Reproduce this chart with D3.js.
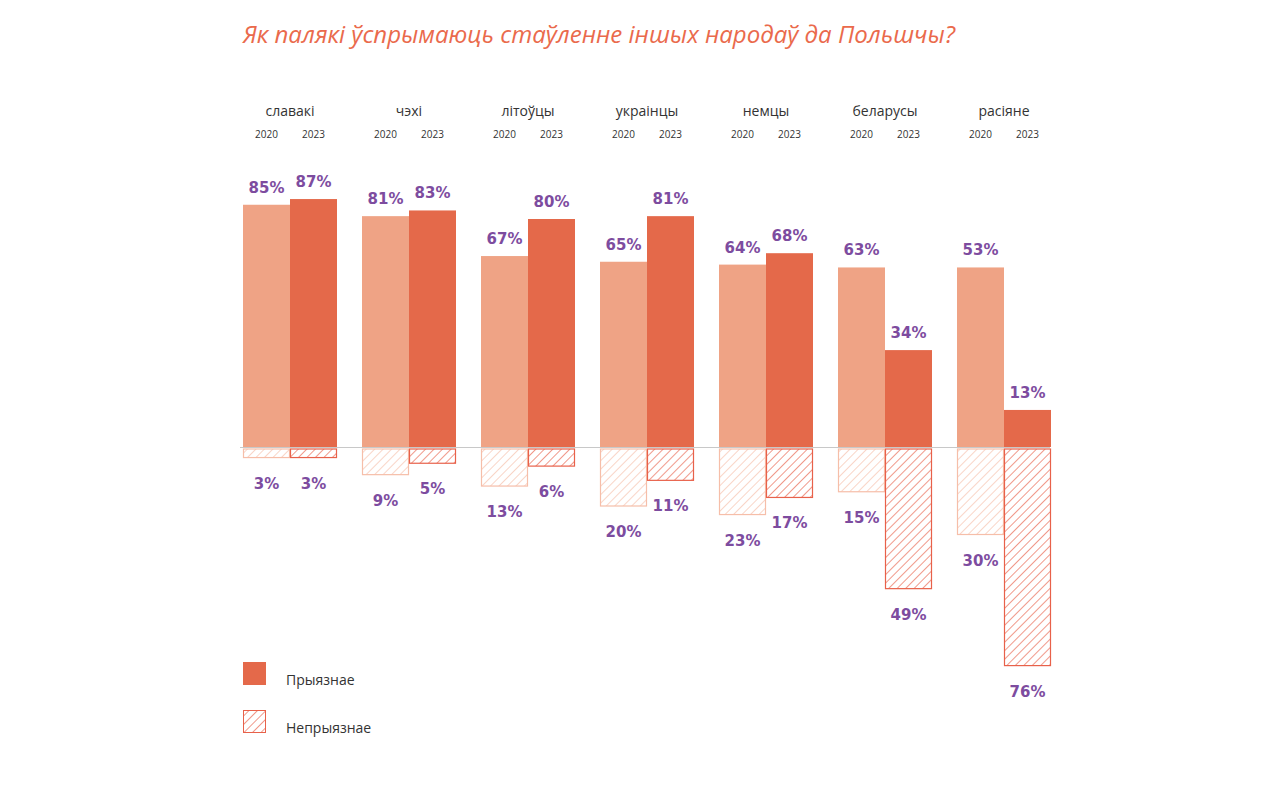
<!DOCTYPE html>
<html><head><meta charset="utf-8">
<script src="https://cdn.jsdelivr.net/npm/d3@7"></script>
<style>body{margin:0;background:#fff;}</style>
</head><body>
<svg id="c" width="1280" height="800"></svg>
<script>
const categories = ["славакі","чэхі","літоўцы","украінцы","немцы","беларусы","расіяне"];
const years = ["2020","2023"];
// printed value labels
const positive2020 = [85,81,67,65,64,63,53];
const positive2023 = [87,83,80,81,68,34,13];
const negative2020 = [3,9,13,20,23,15,30];
const negative2023 = [3,5,6,11,17,49,76];
// bar heights as drawn in the source picture (the "расіяне 2020" bar is drawn at the 63% height)
const positive2020Drawn = [85,81,67,65,64,63,63];
const legendLabels = ["Прыязнае","Непрыязнае"];
const title = "Як палякі ўспрымаюць стаўленне іншых народаў да Польшчы?";

const svg = d3.select("#c");
const defs = svg.append("defs");
function hatch(id, color){
  const p = defs.append("pattern").attr("id",id).attr("patternUnits","userSpaceOnUse")
    .attr("width",6).attr("height",6).attr("patternTransform","rotate(45)");
  p.append("line").attr("x1",0).attr("y1",0).attr("x2",0).attr("y2",6)
    .attr("stroke",color).attr("stroke-width",1.3);
}
const light="#efa385", dark="#e4694a", lightHatch="#f6bea9", darkHatch="#e8614a";
hatch("h0", lightHatch); hatch("h1", darkHatch);

const x0 = d3.scaleBand().domain(categories).range([243, 243+119*7]).paddingInner(0).paddingOuter(0);
const x1 = d3.scaleBand().domain(years).range([0, 94]);
const base = 447;
const yPos = d3.scaleLinear().domain([0,100]).range([base, base-285]);
const yNeg = d3.scaleLinear().domain([0,100]).range([base+2, base+2+285]);

const purple="#7d4c9f";
const labelFont = "'DejaVu Sans', sans-serif";

svg.append("text").attr("x",243).attr("y",43).text(title)
  .attr("font-family","'Open Sans', sans-serif").attr("font-style","italic")
  .attr("font-size",24).attr("fill","#ea6a4c")
  .attr("textLength",712).attr("lengthAdjust","spacingAndGlyphs");

const g = svg.append("g");
categories.forEach((c,i)=>{
  const gx = x0(c);
  g.append("text").attr("x",gx+47).attr("y",116).attr("text-anchor","middle")
    .attr("font-family","'Open Sans', sans-serif").attr("font-size",14).attr("fill","#333").text(c);
  years.forEach((yr,j)=>{
    g.append("text").attr("x",gx+x1(yr)+x1.bandwidth()/2).attr("y",138).attr("text-anchor","middle")
      .attr("font-family","'Open Sans', sans-serif").attr("font-size",10).attr("fill","#333").text(yr);
    const pv = j===0?positive2020[i]:positive2023[i];
    const ph = j===0?positive2020Drawn[i]:positive2023[i];
    const nv = j===0?negative2020[i]:negative2023[i];
    const bx = gx+x1(yr), bw = x1.bandwidth();
    g.append("rect").attr("x",bx).attr("y",yPos(ph)).attr("width",bw).attr("height",base-yPos(ph))
      .attr("fill", j===0?light:dark);
    g.append("rect").attr("x",bx+0.5).attr("y",yNeg(0)).attr("width",bw-1).attr("height",yNeg(nv)-yNeg(0))
      .attr("fill",`url(#h${j})`).attr("stroke", j===0?lightHatch:darkHatch).attr("stroke-width",1.2);
    g.append("text").attr("x",bx+bw/2).attr("y",yPos(ph)-12).attr("text-anchor","middle")
      .attr("font-family",labelFont).attr("font-weight","bold").attr("font-size",15).attr("fill",purple).text(pv+"%");
    g.append("text").attr("x",bx+bw/2).attr("y",yNeg(nv)+31).attr("text-anchor","middle")
      .attr("font-family",labelFont).attr("font-weight","bold").attr("font-size",15).attr("fill",purple).text(nv+"%");
  });
});
svg.append("line").attr("x1",240).attr("x2",1050).attr("y1",base+0.5).attr("y2",base+0.5)
  .attr("stroke","#c8c8c8").attr("stroke-width",1);

// legend
const lg = svg.append("g");
lg.append("rect").attr("x",243).attr("y",662).attr("width",23).attr("height",23).attr("fill",dark);
lg.append("rect").attr("x",243.5).attr("y",710.5).attr("width",22).attr("height",22).attr("fill","url(#h1)").attr("stroke",darkHatch);
lg.append("text").attr("x",286).attr("y",685).text(legendLabels[0])
  .attr("font-family","'Open Sans', sans-serif").attr("font-size",14).attr("fill","#333");
lg.append("text").attr("x",286).attr("y",733).text(legendLabels[1])
  .attr("font-family","'Open Sans', sans-serif").attr("font-size",14).attr("fill","#333");
</script>
</body></html>
